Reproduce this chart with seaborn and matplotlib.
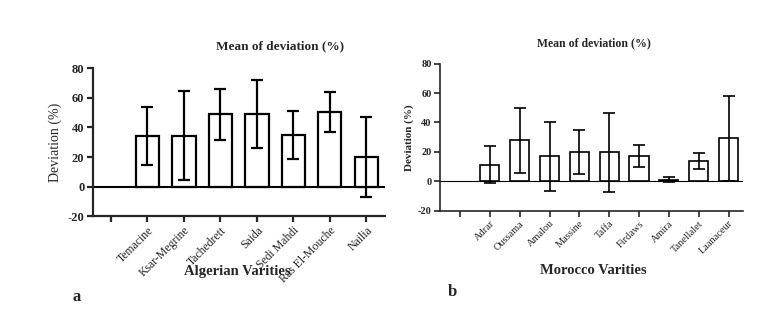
import numpy as np
import pandas as pd
import matplotlib
matplotlib.use("Agg")
import matplotlib.pyplot as plt
import seaborn as sns

# Algerian varieties (panel a)
alg_names = ["Temacine", "Ksar-Megrine", "Tachedrett", "Saida", "Sedi Mahdi", "Ras El-Mouche", "Nailia"]
alg_mean = [34.5, 34.4, 48.8, 49.3, 34.8, 50.4, 19.9]
alg_err = [19.6, 30.0, 17.2, 23.0, 16.4, 13.6, 27.2]

# Moroccan varieties (panel b)
mor_names = ["Adrar", "Oussama", "Amalou", "Massine", "Taffa", "Firdaws", "Amira", "Tanellalet", "Laanaceur"]
mor_mean = [11.3, 28.0, 17.0, 20.0, 19.8, 17.0, 1.2, 13.8, 29.3]
mor_err = [12.4, 22.2, 23.4, 15.0, 26.8, 7.6, 2.0, 5.4, 28.8]

sns.set_style("ticks")
plt.rcParams["font.family"] = ["Liberation Serif", "DejaVu Serif"]
plt.rcParams["axes.unicode_minus"] = False

fig = plt.figure(figsize=(7.74, 3.24), dpi=100)
ax1 = fig.add_axes([0.1198, 0.333, 0.377, 0.456])
ax2 = fig.add_axes([0.5685, 0.3497, 0.392, 0.4537])


def panel(ax, names, mean, err, lw, tick_fs, lab_fs, zero_lw, xmin):
    df = pd.DataFrame({"name": names, "value": mean})
    order = [" "] + names
    sns.barplot(data=df, x="name", y="value", order=order, color="white",
                edgecolor="black", linewidth=lw, width=0.64, ax=ax)
    ax.errorbar(np.arange(1, len(names) + 1), mean, yerr=err, fmt="none",
                ecolor="black", elinewidth=lw, capsize=4, capthick=lw)
    ax.axhline(0, color="black", lw=zero_lw, zorder=0.5)
    ax.set_ylim(-20, 80)
    ax.set_yticks([-20, 0, 20, 40, 60, 80])
    ax.set_xlim(xmin, len(names) + 0.5)
    ax.set_xticks(range(len(order)))
    ax.set_xticklabels(order, rotation=45, ha="right", rotation_mode="anchor",
                       fontsize=lab_fs)
    for t in ax.get_yticklabels():
        t.set_fontweight("bold")
        t.set_fontsize(tick_fs)
    ax.tick_params(axis="both", width=lw, length=4, pad=2)
    for s in ["top", "right"]:
        ax.spines[s].set_visible(False)
    for s in ["left", "bottom"]:
        ax.spines[s].set_linewidth(lw)
    ax.set_xlabel("")


panel(ax1, alg_names, alg_mean, alg_err, 1.6, 9, 8.5, 1.5, -0.5)
panel(ax2, mor_names, mor_mean, mor_err, 1.2, 7.5, 7.5, 0.8, -0.67)

ax1.set_ylabel("Deviation (%)", fontsize=10, labelpad=4)
ax2.set_ylabel("Deviation (%)", fontsize=8, fontweight="bold", labelpad=3)

fig.text(280 / 774, 1 - 46 / 324, "Mean of deviation (%)", fontsize=9.5,
         fontweight="bold", ha="center", va="center")
fig.text(594 / 774, 1 - 43 / 324, "Mean of deviation (%)", fontsize=8.5,
         fontweight="bold", ha="center", va="center")
fig.text(237 / 774, 1 - 271 / 324, "Algerian Varities", fontsize=10.5,
         fontweight="bold", ha="center", va="center")
fig.text(593 / 774, 1 - 271 / 324, "Morocco Varities", fontsize=10.5,
         fontweight="bold", ha="center", va="center")
fig.text(77 / 774, 1 - 297 / 324, "a", fontsize=12, fontweight="bold",
         ha="center", va="center")
fig.text(452 / 774, 1 - 292 / 324, "b", fontsize=12, fontweight="bold",
         ha="center", va="center")

fig.savefig("out.png", dpi=100)
